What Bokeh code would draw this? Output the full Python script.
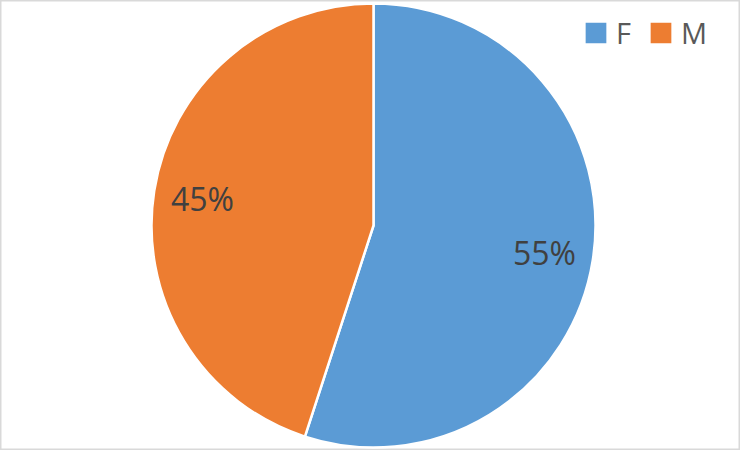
import math
from bokeh.plotting import figure
from bokeh.models import ColumnDataSource, Range1d, Legend, LegendItem
from bokeh.core.properties import value
from bokeh.embed import file_html
from bokeh.resources import INLINE

categories = ["F", "M"]
values = [55, 45]
colors = ["#5B9BD5", "#ED7D31"]

W, H = 740, 450
cx, cy, R = 373, 225, 222

total = sum(values)
starts, ends, lx, ly, labels = [], [], [], [], []
angle = math.pi / 2
for v in values:
    sweep = 2 * math.pi * v / total
    end = angle
    start = angle - sweep
    starts.append(start)
    ends.append(end)
    mid = (start + end) / 2
    lx.append(cx + 0.78 * R * math.cos(mid))
    ly.append(cy + 0.78 * R * math.sin(mid))
    labels.append(f"{round(100 * v / total)}%")
    angle = start

src = ColumnDataSource(dict(cat=categories, val=values, color=colors,
                            start=starts, end=ends, lx=lx, ly=ly, label=labels))

p = figure(width=W, height=H, x_range=Range1d(0, W), y_range=Range1d(0, H),
           output_backend="svg", toolbar_location=None, min_border=0,
           x_axis_type=None, y_axis_type=None)
p.grid.visible = False
p.outline_line_color = "#d9d9d9"
p.outline_line_width = 2
p.background_fill_color = "white"

r = p.wedge(x=cx, y=cy, radius=R, start_angle="start", end_angle="end",
            fill_color="color", line_color="white", line_width=2.5, source=src)

p.text(x="lx", y="ly", text="label", source=src, text_align="center",
       text_baseline="middle", text_font=value("Open Sans"),
       text_font_size="32px", text_color="#404040")

legend = Legend(items=[LegendItem(label=c, renderers=[r], index=i) for i, c in enumerate(categories)],
                location=(581, 398), orientation="horizontal",
                glyph_width=29, glyph_height=29, label_standoff=6, spacing=10,
                label_text_font="Open Sans", label_text_font_size="29px",
                label_text_color="#595959", border_line_color=None,
                background_fill_alpha=0, padding=0, margin=0)
p.add_layout(legend)

open("out.html", "w").write(file_html(p, INLINE))
